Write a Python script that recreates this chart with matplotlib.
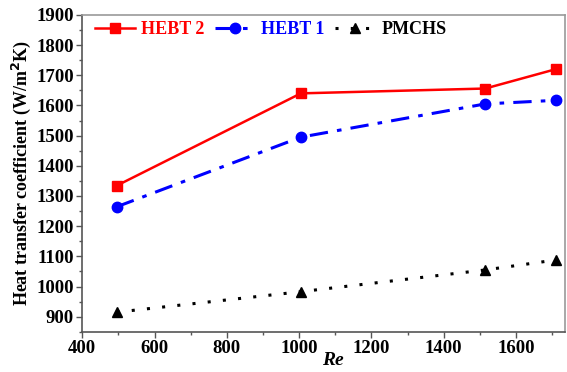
import matplotlib.pyplot as plt
from matplotlib.ticker import MultipleLocator

re_vals = [495, 1005, 1515, 1710]
hebt2 = [1334, 1640, 1656, 1720]
hebt1 = [1264, 1495, 1605, 1617]
pmchs = [915, 983, 1055, 1088]

plt.rcParams['font.family'] = ['Liberation Serif', 'DejaVu Serif']
plt.rcParams['font.weight'] = 'bold'

fig = plt.figure(figsize=(5.67, 3.72), dpi=100)
ax = fig.add_axes([0.145, 0.108, 0.851, 0.852])

ax.plot(re_vals, hebt2, color='#ff0000', lw=1.8, marker='s', ms=6.5, label='HEBT 2')
ax.plot(re_vals, hebt1, color='#0000ff', lw=2.2, ls=(0, (6, 3, 1.5, 3)), marker='o', ms=7.5,
        label='HEBT 1')
ax.plot(re_vals, pmchs, color='black', lw=2.2, ls=(0, (1, 4)), marker='^', ms=7.5,
        label='PMCHS')

ax.set_xlim(400, 1735)
ax.set_ylim(850, 1900)
ax.xaxis.set_major_locator(MultipleLocator(200))
ax.xaxis.set_minor_locator(MultipleLocator(100))
ax.yaxis.set_major_locator(MultipleLocator(100))
ax.yaxis.set_minor_locator(MultipleLocator(50))
ax.tick_params(which='both', direction='out', top=False, right=False,
               labelsize=13.5, color='#555555', pad=2)
ax.tick_params(which='major', length=4, width=1)
ax.tick_params(which='minor', length=2.5, width=1)
for lab in ax.get_xticklabels() + ax.get_yticklabels():
    lab.set_fontweight('bold')

for side in ['left', 'bottom']:
    ax.spines[side].set_color('#555555')
    ax.spines[side].set_linewidth(1.2)
for side in ['top', 'right']:
    ax.spines[side].set_color('#999999')
    ax.spines[side].set_linewidth(1.2)

ax.set_xlabel('Re', style='italic', fontweight='bold', fontsize=14, labelpad=-4)
ax.xaxis.set_label_coords(0.52, -0.065)
ax.set_ylabel('Heat transfer coefficient (W/m$^\\mathbf{2}$K)', fontweight='bold',
              fontsize=13, labelpad=2)

leg = ax.legend(loc='upper left', ncol=3, frameon=False, fontsize=13,
                handlelength=2.2, columnspacing=0.6, handletextpad=0.35,
                bbox_to_anchor=(0.0, 1.02), borderaxespad=0.3)
for t, c in zip(leg.get_texts(), ['#ff0000', '#0000ff', 'black']):
    t.set_color(c)
    t.set_fontweight('bold')

fig.savefig('out.png', dpi=100)
